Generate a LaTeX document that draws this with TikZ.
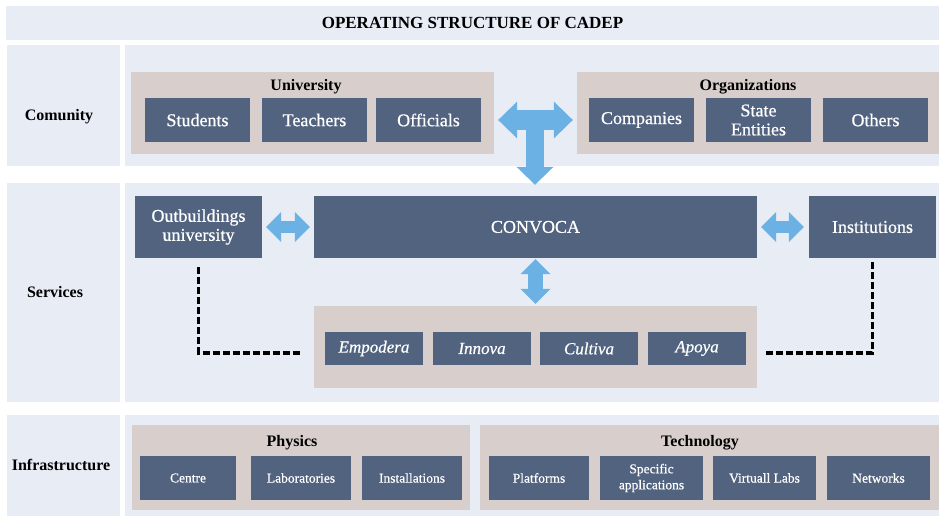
\documentclass[tikz,border=0pt]{standalone}
\usepackage{fontspec}
\setmainfont{Liberation Serif}
\newfontfamily\boxfont[FakeBold=0.6]{Liberation Serif}
\usetikzlibrary{arrows.meta,calc}

\definecolor{bandbg}{HTML}{E8ECF5}
\definecolor{groupgray}{HTML}{D8CFCD}
\definecolor{boxblue}{HTML}{52637F}
\definecolor{arrowblue}{HTML}{6CB1E4}

\begin{document}
\begin{tikzpicture}[x=1pt,y=-1pt,
  band/.style={fill=bandbg,inner sep=0pt},
  grp/.style={fill=groupgray,inner sep=0pt},
  box/.style={fill=boxblue,text=white,inner sep=0pt,align=center,font=\boxfont\fontsize{18}{19}\selectfont},
  italbox/.style={box,minimum width=98pt,minimum height=33pt,font=\boxfont\itshape\fontsize{17}{19}\selectfont},
  smallbox/.style={box,minimum height=44pt,font=\boxfont\fontsize{13.5}{16}\selectfont},
  rowlabel/.style={font=\bfseries\fontsize{16}{18}\selectfont},
  heading/.style={font=\bfseries\fontsize{16}{18}\selectfont},
  fatarrow/.style={draw=arrowblue,line width=#1},
  dashline/.style={line width=3.3pt,dash pattern=on 7pt off 3pt}]
\useasboundingbox (0,0) rectangle (939,516);
\fill[white] (0,0) rectangle (939,516);

% title and rows
\node[band,minimum width=933pt,minimum height=34pt] (title) at (472.5,23)
  {\bfseries\fontsize{17}{19}\selectfont OPERATING STRUCTURE OF CADEP};
\node[band,minimum width=113pt,minimum height=121pt] (comlab) at (63.5,105.5) {};
\node[band,minimum width=814pt,minimum height=121pt] (comrow) at (532,105.5) {};
\node[rowlabel] (comtext) at (59,117) {Comunity};
\node[band,minimum width=113pt,minimum height=219pt] (serlab) at (63.5,292.5) {};
\node[band,minimum width=814pt,minimum height=219pt] (serrow) at (532,292.5) {};
\node[rowlabel] (sertext) at (55,292) {Services};
\node[band,minimum width=113pt,minimum height=101pt] (inflab) at (63.5,465.5) {};
\node[band,minimum width=814pt,minimum height=101pt] (infrow) at (532,465.5) {};
\node[rowlabel] (inftext) at (61,465) {Infrastructure};

% comunity
\node[grp,minimum width=363pt,minimum height=82pt] (univ) at (312.5,113) {};
\node[heading] (univhead) at (306,87) {University};
\node[box,minimum width=105pt,minimum height=44pt] (students) at (197.5,120) {Students};
\node[box,minimum width=105pt,minimum height=44pt] (teachers) at (314.5,120) {Teachers};
\node[box,minimum width=105pt,minimum height=44pt] (officials) at (428.5,120) {Officials};
\node[grp,minimum width=362pt,minimum height=82pt] (orgs) at (758,113) {};
\node[heading] (orghead) at (748,87) {Organizations};
\node[box,minimum width=105pt,minimum height=44pt] (companies) at (641.5,120) {Companies};
\node[box,minimum width=105pt,minimum height=44pt] (stateent) at (758.5,120) {State\\Entities};
\node[box,minimum width=105pt,minimum height=44pt] (others) at (875.5,120) {Others};

% services
\node[box,minimum width=127pt,minimum height=62pt] (outb) at (198.5,227) {Outbuildings\\university};
\node[box,minimum width=443pt,minimum height=62pt] (convoca) at (535.5,227) {CONVOCA};
\node[box,minimum width=127pt,minimum height=62pt] (inst) at (872.5,227) {Institutions};
\node[grp,minimum width=443pt,minimum height=82pt] (tools) at (535.5,347) {};
\node[italbox] (empodera) at (374,348.5) {Empodera};
\node[italbox] (innova) at (482,348.5) {Innova};
\node[italbox] (cultiva) at (589,348.5) {Cultiva};
\node[italbox] (apoya) at (697,348.5) {Apoya};

% infrastructure
\node[grp,minimum width=338pt,minimum height=85pt] (physics) at (301,467.5) {};
\node[heading] (phyhead) at (292,443) {Physics};
\node[smallbox,minimum width=96pt] (centre) at (188,478) {Centre};
\node[smallbox,minimum width=100pt] (labs) at (301,478) {Laboratories};
\node[smallbox,minimum width=100pt] (install) at (412,478) {Installations};
\node[grp,minimum width=459pt,minimum height=85pt] (tech) at (709.5,467.5) {};
\node[heading] (techhead) at (700,443) {Technology};
\node[smallbox,minimum width=100pt] (platforms) at (539,478) {Platforms};
\node[smallbox,minimum width=103pt] (specific) at (651.5,478) {Specific\\applications};
\node[smallbox,minimum width=103pt] (virtual) at (764.5,478) {Virtuall Labs};
\node[smallbox,minimum width=103pt] (networks) at (878.5,478) {Networks};

% block arrows
\coordinate (tjoin) at ($(officials.east)!0.5!(companies.west)$);
\draw[fatarrow=18pt,-{Triangle[length=18pt,width=37pt,line width=0pt]},shorten >=11pt]
  (tjoin) -- (tjoin |- convoca.north);
\draw[fatarrow=20pt,{Triangle[length=19pt,width=37pt,line width=0pt]}-{Triangle[length=19pt,width=37pt,line width=0pt]},
  shorten <=17pt,shorten >=16pt] (officials.east) -- (companies.west);
\draw[fatarrow=12pt,{Triangle[length=15pt,width=30pt,line width=0pt]}-{Triangle[length=15pt,width=30pt,line width=0pt]},
  shorten <=4pt,shorten >=4pt] (outb.east) -- (convoca.west);
\draw[fatarrow=12pt,{Triangle[length=15pt,width=30pt,line width=0pt]}-{Triangle[length=15pt,width=30pt,line width=0pt]},
  shorten <=4pt,shorten >=5pt] (convoca.east) -- (inst.west);
\draw[fatarrow=15pt,{Triangle[length=15pt,width=30pt,line width=0pt]}-{Triangle[length=15pt,width=30pt,line width=0pt]},
  shorten <=1pt,shorten >=2pt] (convoca.south) -- (tools.north);

% dashed links
\draw[dashline] ([yshift=-9pt]outb.south) |- ([xshift=-13pt,yshift=-6pt]tools.west);
\draw[dashline] ([yshift=-4pt]inst.south) |- ([xshift=9pt,yshift=-6pt]tools.east);
\end{tikzpicture}
\end{document}
